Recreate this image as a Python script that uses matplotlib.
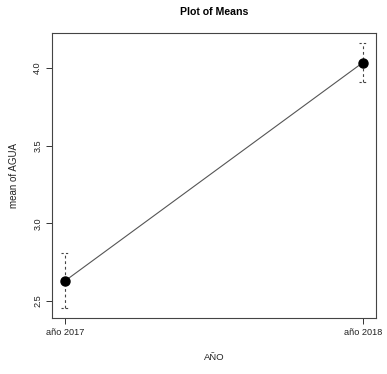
import numpy as np
import matplotlib
matplotlib.use("Agg")
import matplotlib.pyplot as plt

plt.rcParams['font.family'] = ['Liberation Sans', 'DejaVu Sans']

categories = ["año 2017", "año 2018"]
means = [2.63, 4.034]
errors = [0.176, 0.123]

fig = plt.figure(figsize=(3.87, 3.74), dpi=100)
ax = fig.add_axes([0.1344, 0.1497, 0.8372, 0.7621])

x = np.arange(1, len(categories) + 1)
ax.plot(x, means, color='#555555', lw=0.8, zorder=2)

# error bars: dashed vertical lines with dashed caps
for xi, m, e in zip(x, means, errors):
    ax.plot([xi, xi], [m - e, m + e], color='#444444', lw=0.8,
            dashes=(2.5, 2.5), zorder=1)
    for yc in (m - e, m + e):
        ax.plot([xi - 0.013, xi + 0.013], [yc, yc], color='#444444', lw=0.8,
                dashes=(2, 2), zorder=1)

ax.plot(x, means, 'o', color='black', markersize=6.5, zorder=3)

ax.set_xlim(0.956, 2.044)
ax.set_ylim(2.391, 4.224)
ax.set_xticks(x)
ax.set_xticklabels(categories)
ax.set_yticks([2.5, 3.0, 3.5, 4.0])
ax.set_yticklabels(['2.5', '3.0', '3.5', '4.0'], rotation=90, va='center')

ax.tick_params(axis='both', labelsize=6.6, length=4, width=0.7,
               color='#333333', labelcolor='#222222', pad=3)
for sp in ax.spines.values():
    sp.set_color('#444444')
    sp.set_linewidth(0.8)

ax.set_xlabel('AÑO', fontsize=6.8, color='#222222', labelpad=12)
ax.set_ylabel('mean of AGUA', fontsize=7.0, color='#222222', labelpad=10)
ax.set_title('Plot of Means', fontsize=7.6, fontweight='bold', pad=13)

fig.savefig('out.png', dpi=100)
plt.close(fig)
